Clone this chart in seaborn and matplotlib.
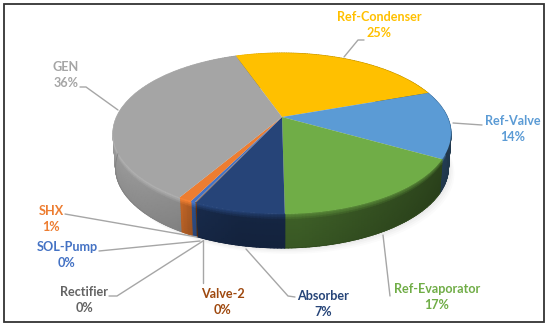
import numpy as np
import matplotlib
matplotlib.use('Agg')
import matplotlib.pyplot as plt
import matplotlib.colors as mcolors
from matplotlib.transforms import Transform
from matplotlib.patches import Rectangle
import seaborn as sns

components = ['Ref-Condenser', 'Ref-Valve', 'Ref-Evaporator', 'Absorber', 'Valve-2',
              'Rectifier', 'SOL-Pump', 'SHX', 'GEN']
shares = [25.0, 13.6, 16.6, 7.2, 0.05, 0.05, 0.35, 1.1, 36.1]
colors = ['#ffc000', '#5b9bd5', '#70ad47', '#264478', '#9e480e',
          '#636363', '#4472c4', '#ed7d31', '#a5a5a5']

# label centres in image pixels
label_pos = [(379, 25), (513, 129), (437, 297), (323, 304), (223, 302),
             (84, 300), (67, 255), (51, 219), (66, 75)]
# leader lines in image pixels
leaders = [
    [(364, 40), (358, 40), (344, 57)],
    [(482, 125), (453, 123)],
    [(390, 296), (383, 235)],
    [(295, 297), (288, 296), (246, 249)],
    [(203, 283), (203, 240)],
    [(109, 296), (117, 296), (203, 241)],
    [(99, 251), (200, 241)],
    [(65, 214), (197, 237)],
    [(80, 87), (86, 87), (118, 110)],
]

# perspective of the tilted disc
CX, CY = 282, 117
SX, SY, K = 165.4, 77.1, 0.205
DEPTH = 34


class Tilt(Transform):
    input_dims = 2
    output_dims = 2

    def transform_non_affine(self, values):
        values = np.asarray(values, dtype=float)
        w = 1 + K * values[:, 1]
        return np.column_stack([CX + SX * values[:, 0] / w, CY - SY * values[:, 1] / w])


sns.set_theme(style='white')
plt.rcParams['font.family'] = ['Lato', 'DejaVu Sans']

fig = plt.figure(figsize=(5.5, 3.28), dpi=100)
ax = fig.add_axes([0, 0, 1, 1])
wedges, _ = ax.pie(shares, colors=colors, startangle=109.4, counterclock=False,
                   wedgeprops={'linewidth': 0})
ax.set_aspect('auto')
ax.set_xlim(0, 550)
ax.set_ylim(328, 0)
ax.axis('off')

tilt = Tilt()


def rim(theta):
    return tilt.transform_non_affine(np.column_stack([np.cos(theta), np.sin(theta)]))


# soft shadow under the disc
t = np.linspace(0, 2 * np.pi, 200)
for grow, a in zip([6, 4.5, 3, 1.5], [0.015, 0.02, 0.025, 0.03]):
    p = rim(t)
    ax.fill(CX + (p[:, 0] - CX) * 0.985 + grow, p[:, 1] + DEPTH + grow, color='black', alpha=a, lw=0, zorder=1)

# side wall: shade runs left to right, with a bright bevel just under the top
depths = np.linspace(0, DEPTH, 18)
for wedge, col in zip(wedges, colors):
    th1, th2 = np.radians(wedge.theta1), np.radians(wedge.theta2)
    th = np.linspace(th1, th2, max(3, int((th2 - th1) * 60)))
    base = np.array(mcolors.to_rgb(col))
    p = rim(th)
    X = CX + np.outer(p[:, 0] - CX, 1 - 0.015 * depths / DEPTH)
    Y = p[:, 1][:, None] + depths
    f = np.interp(X, [113, 180, 200, 240, 300, 420, 451], [0.95, 0.85, 0.62, 0.55, 0.55, 0.42, 0.38])
    bevel = np.interp(depths, [0, 6], [1, 0])[None, :]
    top = np.interp(X, [113, 200, 300], [1.1, 1.08, 0.8])
    shade = (f + (top - f) * bevel) * np.interp(depths, [0, DEPTH], [1.0, 0.92])[None, :]
    rgb = np.clip(base[None, None, :] * shade[:, :, None], 0, 1)
    ax.pcolormesh(X, Y, rgb, shading='gouraud', zorder=2)
    ax.plot(X[:, -1], Y[:, -1], color=base * np.mean(f) * 0.92, lw=0.6, zorder=2)

# top of the disc
for wedge in wedges:
    wedge.set_transform(tilt + ax.transData)
    wedge.set_zorder(3)
    wedge.set_clip_on(False)

for line in leaders:
    xs, ys = zip(*line)
    ax.plot(xs, ys, color='#a6a6a6', lw=1.0, zorder=4)

for name, share, col, (x, y) in zip(components, shares, colors, label_pos):
    ax.text(x, y, f'{name}\n{share / sum(shares) * 100:.0f}%', color=col, ha='center', va='center',
            fontsize=9.1, fontweight='bold', linespacing=1.42, zorder=5)

ax.add_patch(Rectangle((4, 4), 540, 318, fill=False, ec='#333333', lw=1.3, zorder=6))

fig.savefig('out.png', dpi=100)
plt.close(fig)
